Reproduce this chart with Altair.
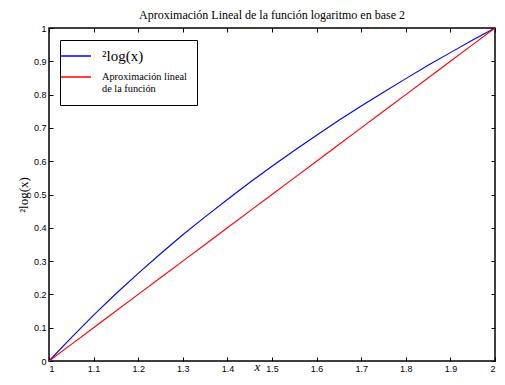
import altair as alt
import pandas as pd

# Values
x_vals = [1.0, 1.05, 1.1, 1.15, 1.2, 1.25, 1.3, 1.35, 1.4, 1.45, 1.5,
          1.55, 1.6, 1.65, 1.7, 1.75, 1.8, 1.85, 1.9, 1.95, 2.0]
log_vals = [0.0, 0.070, 0.138, 0.202, 0.263, 0.322, 0.379, 0.433, 0.485, 0.536, 0.585,
            0.632, 0.678, 0.723, 0.766, 0.807, 0.848, 0.888, 0.926, 0.964, 1.0]
lin_vals = [0.0, 0.05, 0.10, 0.15, 0.20, 0.25, 0.30, 0.35, 0.40, 0.45, 0.50,
            0.55, 0.60, 0.65, 0.70, 0.75, 0.80, 0.85, 0.90, 0.95, 1.0]
series_names = ["²log(x)", "Aproximación lineal de la función"]
series_colors = ["#0000ff", "#ff0000"]
x_ticks = [1.0, 1.1, 1.2, 1.3, 1.4, 1.5, 1.6, 1.7, 1.8, 1.9, 2.0]
y_ticks = [0.0, 0.1, 0.2, 0.3, 0.4, 0.5, 0.6, 0.7, 0.8, 0.9, 1.0]

n = len(x_vals)
df = pd.DataFrame({
    "x": x_vals + x_vals,
    "y": log_vals + lin_vals,
    "s": [series_names[0]] * n + [series_names[1]] * n,
})

SANS = "Liberation Sans"
SERIF = "Liberation Serif"

tick_common = dict(offset=-4, tickSize=4, domain=False, grid=False,
                   tickColor="black", tickWidth=1)

xscale = alt.Scale(domain=[1, 2], nice=False, zero=False)
yscale = alt.Scale(domain=[0, 1], nice=False)

lines = alt.Chart(df).mark_line(strokeWidth=1.1).encode(
    x=alt.X("x:Q", scale=xscale,
            axis=alt.Axis(values=x_ticks, format="~g", title="x", labelPadding=3,
                          labelFont=SANS, labelFontSize=9, labelColor="black",
                          titleFont=SERIF, titleFontSize=13, titleFontStyle="italic",
                          titleFontWeight="normal", titleX=208, titleY=13,
                          titleBaseline="alphabetic", titleAlign="center",
                          **tick_common)),
    y=alt.Y("y:Q", scale=yscale,
            axis=alt.Axis(values=y_ticks, format="~g", title="²log(x)", labelPadding=3,
                          labelFont=SANS, labelFontSize=9, labelColor="black",
                          titleFont=SERIF, titleFontSize=13, titleFontWeight="normal",
                          titlePadding=3, **tick_common)),
    color=alt.Color("s:N", scale=alt.Scale(domain=series_names, range=series_colors),
                    legend=alt.Legend(
                        title=None,
                        orient="none", legendX=11, legendY=12,
                        direction="vertical",
                        symbolType="M-3,0H3", symbolSize=100, symbolStrokeWidth=1.5,
                        symbolFillColor="transparent",
                        labelFont=SERIF, labelColor="black",
                        labelFontSize=alt.ExprRef(expr="datum.label == '²log(x)' ? 15 : 10.3"),
                        labelExpr="datum.label == '²log(x)' ? datum.label : ['Aproximación lineal', 'de la función']",
                        labelOffset=20, labelLimit=220,
                        padding=10, rowPadding=7,
                        strokeColor="black", fillColor="white",
                    )),
)

mirror = alt.Chart(df).mark_line(opacity=0).encode(
    x=alt.X("x:Q", scale=xscale,
            axis=alt.Axis(values=x_ticks, orient="top", labels=False, title=None, **tick_common)),
    y=alt.Y("y:Q", scale=yscale,
            axis=alt.Axis(values=y_ticks, orient="right", labels=False, title=None, **tick_common)),
)

chart = alt.layer(lines, mirror).resolve_axis(
    x="independent", y="independent"
).properties(
    width=446, height=333,
    title=alt.TitleParams("Aproximación Lineal de la función logaritmo en base 2",
                          font=SERIF, fontSize=12, fontWeight="normal", color="black",
                          offset=2, anchor="middle"),
    autosize=alt.AutoSizeParams(type="none"),
    padding={"left": 41, "top": 20, "right": 2, "bottom": 12},
).configure_view(stroke="black", strokeWidth=1.5)

chart.save("out.html", embed_options={"renderer": "svg", "actions": False})
